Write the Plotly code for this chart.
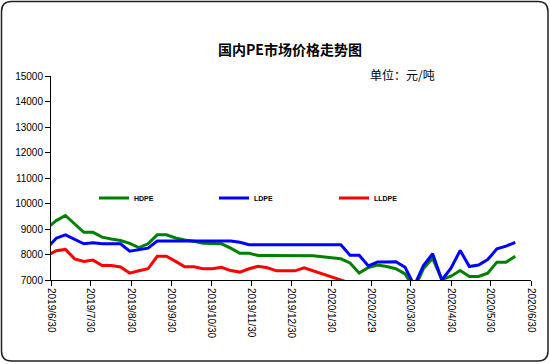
import plotly.graph_objects as go

# ---- data ----
dates = [
    "2019-06-27", "2019-07-04", "2019-07-11", "2019-07-18", "2019-07-25",
    "2019-08-01", "2019-08-08", "2019-08-15", "2019-08-22", "2019-08-29",
    "2019-09-05", "2019-09-12", "2019-09-19", "2019-09-26",
    "2019-10-03", "2019-10-10", "2019-10-17", "2019-10-24", "2019-10-31",
    "2019-11-07", "2019-11-14", "2019-11-21", "2019-11-28",
    "2019-12-05", "2019-12-12", "2019-12-19", "2019-12-26",
    "2020-01-02", "2020-01-09", "2020-01-16", "2020-01-23", "2020-01-30",
    "2020-02-06", "2020-02-13", "2020-02-20", "2020-02-27",
    "2020-03-05", "2020-03-12", "2020-03-19", "2020-03-26",
    "2020-04-02", "2020-04-09", "2020-04-16", "2020-04-23", "2020-04-30",
    "2020-05-07", "2020-05-14", "2020-05-21", "2020-05-28",
    "2020-06-04", "2020-06-11", "2020-06-18",
]

hdpe = [9040, 9330, 9530, 9200, 8870, 8870, 8680, 8610, 8550, 8440,
        8270, 8420, 8770, 8770, 8650, 8570, 8520, 8440, 8440, 8420,
        8250, 8050, 8050, 7960, 7960, 7960, 7960, 7960, 7960, 7950,
        7910, 7860, 7830, 7670, 7270, 7490, 7590, 7530, 7440, 7240,
        6650, 7450, 7850, 7020, 7150, 7370, 7140, 7140, 7270, 7700,
        7700, 7930]

ldpe = [8250, 8640, 8770, 8600, 8420, 8460, 8420, 8420, 8420, 8130,
        8180, 8250, 8530, 8530, 8530, 8530, 8530, 8530, 8530, 8530,
        8530, 8480, 8380, 8380, 8380, 8380, 8380, 8380, 8380, 8380,
        8380, 8380, 8380, 7970, 7970, 7550, 7710, 7710, 7720, 7500,
        6780, 7570, 8030, 7000, 7460, 8160, 7530, 7590, 7800, 8220,
        8330, 8480]

lldpe = [7960, 8150, 8200, 7830, 7730, 7780, 7570, 7570, 7510, 7270,
         7360, 7440, 7930, 7930, 7730, 7520, 7520, 7440, 7440, 7500,
         7370, 7310, 7440, 7540, 7480, 7360, 7360, 7360, 7480, 7360,
         7240, 7120, 7000, 6880] + [None] * 18

tick_dates = ["2019-06-30", "2019-07-30", "2019-08-30", "2019-09-30",
              "2019-10-30", "2019-11-30", "2019-12-30", "2020-01-30",
              "2020-02-29", "2020-03-30", "2020-04-30", "2020-05-30",
              "2020-06-30"]
tick_labels = ["2019/6/30", "2019/7/30", "2019/8/30", "2019/9/30",
               "2019/10/30", "2019/11/30", "2019/12/30", "2020/1/30",
               "2020/2/29", "2020/3/30", "2020/4/30", "2020/5/30",
               "2020/6/30"]

series = [("HDPE", hdpe, "#008000"), ("LDPE", ldpe, "#0000FF"), ("LLDPE", lldpe, "#FF0000")]

W, H = 550, 364
ML, MR, MT, MB = 51, 19, 76, 84
PW, PH = W - ML - MR, H - MT - MB

def px(x):
    return (x - ML) / PW

def py(y):
    return (H - MB - y) / PH

fig = go.Figure()
for name, vals, col in series:
    fig.add_trace(go.Scatter(x=dates, y=vals, name=name, mode="lines",
                             line=dict(color=col, width=3), connectgaps=False))

# rounded chart border
x0, y0, x1, y1, r = 1.5, 1.5, 548, 361, 10
path = (f"M{px(x0 + r)},{py(y0)} L{px(x1 - r)},{py(y0)} Q{px(x1)},{py(y0)} {px(x1)},{py(y0 + r)} "
        f"L{px(x1)},{py(y1 - r)} Q{px(x1)},{py(y1)} {px(x1 - r)},{py(y1)} "
        f"L{px(x0 + r)},{py(y1)} Q{px(x0)},{py(y1)} {px(x0)},{py(y1 - r)} "
        f"L{px(x0)},{py(y0 + r)} Q{px(x0)},{py(y0)} {px(x0 + r)},{py(y0)} Z")

fig.update_layout(
    width=W, height=H,
    margin=dict(l=ML, r=MR, t=MT, b=MB, pad=0),
    paper_bgcolor="white", plot_bgcolor="white",
    font=dict(family="Liberation Sans, Arial, sans-serif", size=10, color="black"),
    title=dict(text="国内PE市场价格走势图", x=px(290), xref="paper", xanchor="center",
               y=1 - 50 / H, yanchor="middle",
               font=dict(family="Noto Sans CJK SC", size=14, color="black", weight="bold")),
    xaxis=dict(type="date", range=["2019-06-30", "2020-06-30"],
               tickmode="array", tickvals=tick_dates, ticktext=tick_labels,
               tickangle=90, ticks="outside", ticklen=5, tickcolor="black",
               showline=True, linecolor="black", linewidth=1,
               showgrid=False, zeroline=False, automargin=False,
               tickfont=dict(size=10, family="Liberation Sans, Arial, sans-serif")),
    yaxis=dict(range=[7000, 15000], dtick=1000, tick0=7000, tickformat="d",
               ticks="outside", ticklen=5, tickcolor="black",
               showline=True, linecolor="black", linewidth=1,
               showgrid=False, zeroline=False, automargin=False,
               tickfont=dict(size=10, family="Liberation Sans, Arial, sans-serif")),
    legend=dict(orientation="h", x=px(94), xanchor="left", y=py(198), yanchor="middle",
                entrywidth=75, entrywidthmode="pixels", bgcolor="rgba(0,0,0,0)",
                font=dict(size=7, family="Liberation Sans, Arial, sans-serif", weight="bold")),
    shapes=[dict(type="path", xref="paper", yref="paper", path=path,
                 line=dict(color="#222222", width=1.5), layer="above")],
    annotations=[dict(text="单位：元/吨", x=px(368), y=py(74), xref="paper", yref="paper",
                      xanchor="left", yanchor="middle", showarrow=False,
                      font=dict(family="Noto Sans CJK SC", size=12, color="black"))],
)

fig.write_html("out.html", config={"displayModeBar": False},
               post_script="document.body.style.margin='0';document.body.style.overflow='hidden';")
